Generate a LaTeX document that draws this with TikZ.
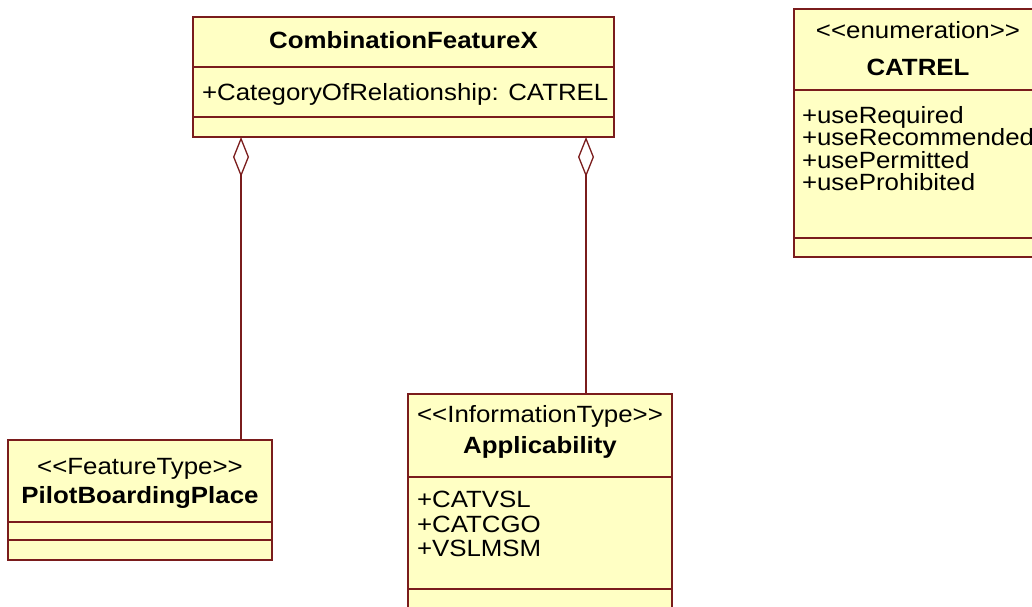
\documentclass[tikz,border=0pt]{standalone}
\usepackage{fontspec}
\setmainfont{Liberation Sans}[FakeStretch=1.1, Ligatures=TeXOff]
\usetikzlibrary{arrows.meta}
\definecolor{umlfill}{RGB}{255,255,196}
\definecolor{umlline}{RGB}{122,28,28}
\tikzset{
  cls/.style={draw=umlline, fill=umlfill, line width=1.6pt, anchor=north west, inner sep=0pt, outer sep=0pt},
  sepline/.style={draw=umlline, line width=1.6pt},
  txt/.style={inner sep=0pt, outer sep=0pt, font=\fontsize{23.5}{25}\selectfont},
  title/.style={txt, anchor=base, font=\fontsize{23.5}{25}\selectfont\bfseries},
  stereo/.style={txt, anchor=base},
  item/.style={txt, anchor=base west},
  agg/.style={draw=umlline, line width=1.3pt, {Diamond[open, length=40pt, width=16pt, line width=1.3pt]}-}
}
\begin{document}
\begin{tikzpicture}[x=1pt, y=-1pt]
\useasboundingbox (0,0) rectangle (1032,606);
\clip (0,0) rectangle (1032,606);

% CombinationFeatureX
\node[cls, minimum width=421pt, minimum height=120pt] (cfx) at (193,17) {};
\draw[sepline] (193,67) -- (614,67);
\draw[sepline] (193,117) -- (614,117);
\node[title] (cfxname) at (403.5,48.5) {CombinationFeatureX};
\node[item] (cfxattr) at (202,100) {+CategoryOfRelationship: CATREL};

% CATREL enumeration
\node[cls, minimum width=248pt, minimum height=248pt] (catrel) at (794,9) {};
\draw[sepline] (794,90) -- (1042,90);
\draw[sepline] (794,238) -- (1042,238);
\node[stereo] (catrelst) at (918,38) {<<enumeration>>};
\node[title] (catrelname) at (918,75) {CATREL};
\node[item] (ci1) at (802,123) {+useRequired};
\node[item] (ci2) at (802,145.5) {+useRecommended};
\node[item] (ci3) at (802,168) {+usePermitted};
\node[item] (ci4) at (802,190.5) {+useProhibited};

% PilotBoardingPlace
\node[cls, minimum width=264pt, minimum height=120pt] (pbp) at (8,440) {};
\draw[sepline] (8,522) -- (272,522);
\draw[sepline] (8,540) -- (272,540);
\node[stereo] (pbpst) at (140,474) {<<FeatureType>>};
\node[title] (pbpname) at (140,503) {PilotBoardingPlace};

% Applicability
\node[cls, minimum width=264pt, minimum height=240pt] (app) at (408,394) {};
\draw[sepline] (408,477) -- (672,477);
\draw[sepline] (408,589) -- (672,589);
\node[stereo] (appst) at (540,422) {<<InformationType>>};
\node[title] (appname) at (540,453) {Applicability};
\node[item] (ai1) at (417,507.5) {+CATVSL};
\node[item] (ai2) at (417,532) {+CATCGO};
\node[item] (ai3) at (417,556.5) {+VSLMSM};

% Aggregations
\coordinate (a1) at (cfx.south -| 241,0);
\coordinate (a2) at (cfx.south -| 586,0);
\draw[agg] (a1) -- (a1 |- pbp.north);
\draw[agg] (a2) -- (a2 |- app.north);
\end{tikzpicture}
\end{document}
